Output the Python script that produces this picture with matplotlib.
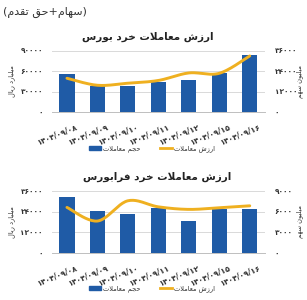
import numpy as np
import matplotlib
import matplotlib.pyplot as plt
from matplotlib.patches import Patch
from matplotlib.lines import Line2D
from matplotlib.transforms import ScaledTranslation

matplotlib.use("Agg")
plt.rcParams["font.family"] = ["DejaVu Sans"]

# ---- داده‌ها ----
dates = ["1404/09/08", "1404/09/09", "1404/09/10", "1404/09/11",
         "1404/09/12", "1404/09/15", "1404/09/16"]

bourse_volume = [56000, 38500, 38000, 44300, 46800, 57100, 84300]
bourse_value = [19900, 15800, 17000, 18600, 23000, 22800, 32950]

farabourse_volume = [32400, 24200, 22600, 26000, 18400, 25300, 25300]
farabourse_value = [6620, 4640, 7580, 6700, 6330, 6570, 6850]

bourse_left_ticks = [0, 30000, 60000, 90000]
bourse_right_ticks = [0, 12000, 24000, 36000]
fara_left_ticks = [0, 12000, 24000, 36000]
fara_right_ticks = [0, 3000, 6000, 9000]

subtitle = "(سهام+حق تقدم)"
title_bourse = "ارزش معاملات خرد بورس"
title_fara = "ارزش معاملات خرد فرابورس"
label_left = "میلیارد ریال"
label_right = "میلیون سهم"
legend_bar = "حجم معاملات"
legend_line = "ارزش معاملات"

BLUE = "#1f5ba6"
GOLD = "#efb020"
GRID = "#d9d9d9"
TXT = "#333333"

# ---- شکل‌دهی ساده حروف فارسی (matplotlib اتصال حروف را انجام نمی‌دهد) ----
FORMS = {
    "ا": ("\uFE8D", "\uFE8E", None, None),
    "ب": ("\uFE8F", "\uFE90", "\uFE91", "\uFE92"),
    "ت": ("\uFE95", "\uFE96", "\uFE97", "\uFE98"),
    "ج": ("\uFE9D", "\uFE9E", "\uFE9F", "\uFEA0"),
    "ح": ("\uFEA1", "\uFEA2", "\uFEA3", "\uFEA4"),
    "خ": ("\uFEA5", "\uFEA6", "\uFEA7", "\uFEA8"),
    "د": ("\uFEA9", "\uFEAA", None, None),
    "ر": ("\uFEAD", "\uFEAE", None, None),
    "ز": ("\uFEAF", "\uFEB0", None, None),
    "س": ("\uFEB1", "\uFEB2", "\uFEB3", "\uFEB4"),
    "ش": ("\uFEB5", "\uFEB6", "\uFEB7", "\uFEB8"),
    "ع": ("\uFEC9", "\uFECA", "\uFECB", "\uFECC"),
    "ف": ("\uFED1", "\uFED2", "\uFED3", "\uFED4"),
    "ق": ("\uFED5", "\uFED6", "\uFED7", "\uFED8"),
    "ل": ("\uFEDD", "\uFEDE", "\uFEDF", "\uFEE0"),
    "م": ("\uFEE1", "\uFEE2", "\uFEE3", "\uFEE4"),
    "ن": ("\uFEE5", "\uFEE6", "\uFEE7", "\uFEE8"),
    "ه": ("\uFEE9", "\uFEEA", "\uFEEB", "\uFEEC"),
    "و": ("\uFEED", "\uFEEE", None, None),
    "ی": ("\uFEEF", "\uFEF0", "\uFEF3", "\uFEF4"),
}
MIRROR = {"(": ")", ")": "("}
FA_DIGITS = str.maketrans("0123456789", "۰۱۲۳۴۵۶۷۸۹")


def fa(text):
    chars = list(text)
    out = []
    prev_joins = False
    i = 0
    while i < len(chars):
        c = chars[i]
        if c == "ل" and i + 1 < len(chars) and chars[i + 1] == "ا":
            out.append("\uFEFC" if prev_joins else "\uFEFB")
            prev_joins = False
            i += 2
            continue
        if c in FORMS:
            f = FORMS[c]
            nxt = chars[i + 1] if i + 1 < len(chars) else ""
            join_next = f[2] is not None and nxt in FORMS
            if prev_joins and join_next:
                g = f[3]
            elif prev_joins:
                g = f[1]
            elif join_next:
                g = f[2]
            else:
                g = f[0]
            out.append(g)
            prev_joins = join_next
        else:
            out.append(MIRROR.get(c, c))
            prev_joins = False
        i += 1
    return "".join(reversed(out))


def fa_num(v):
    return str(v).translate(FA_DIGITS)


def smooth(x, y, n=24):
    # منحنی هموار شبیه خط صاف‌شده اکسل (Catmull-Rom)
    p = np.column_stack([x, y]).astype(float)
    p = np.vstack([p[0], p, p[-1]])
    xs, ys = [], []
    t = np.linspace(0, 1, n)
    for i in range(1, len(p) - 2):
        p0, p1, p2, p3 = p[i - 1], p[i], p[i + 1], p[i + 2]
        c1 = p1 + (p2 - p0) / 6
        c2 = p2 - (p3 - p1) / 6
        b = ((1 - t) ** 3)[:, None] * p1 + (3 * (1 - t) ** 2 * t)[:, None] * c1 \
            + (3 * (1 - t) * t ** 2)[:, None] * c2 + (t ** 3)[:, None] * p2
        xs.extend(b[:, 0])
        ys.extend(b[:, 1])
    return xs, ys


fig = plt.figure(figsize=(3.07, 3.00), dpi=100)
W, H = 307, 300


def panel(bottom_px, top_px, bars, line, lticks, rticks):
    ax = fig.add_axes([51.7 / W, 1 - bottom_px / H, 213.3 / W, (bottom_px - top_px) / H])
    axr = ax.twinx()
    x = np.arange(len(dates))
    ax.bar(x, bars, width=0.5, color=BLUE, zorder=2)
    ax.set_xlim(-0.5, len(dates) - 0.5)
    ax.set_ylim(lticks[0], lticks[-1])
    axr.set_ylim(rticks[0], rticks[-1])
    ax.set_yticks(lticks)
    ax.set_yticklabels([fa_num(v) for v in lticks], fontweight="bold")
    axr.set_yticks(rticks)
    axr.set_yticklabels([fa_num(v) for v in rticks], fontweight="bold")
    ax.yaxis.grid(True, color=GRID, linewidth=0.7, zorder=0)
    ax.set_axisbelow(True)
    sx, sy = smooth(x, line)
    axr.plot(sx, sy, color=GOLD, linewidth=2.1, solid_capstyle="round", zorder=3)
    for a in (ax, axr):
        for s in a.spines.values():
            s.set_visible(False)
        a.tick_params(length=0, labelsize=5.3, colors=TXT)
    ax.spines["bottom"].set_visible(True)
    ax.spines["bottom"].set_color("#bfbfbf")
    ax.spines["bottom"].set_linewidth(0.7)
    ax.tick_params(axis="y", pad=6.3)
    axr.tick_params(axis="y", pad=7)
    ax.set_xticks(x)
    ax.set_xticklabels([fa_num(d) for d in dates], rotation=22, ha="right",
                       va="top", rotation_mode="anchor", fontsize=5.5,
                       fontweight="bold", color=TXT)
    off = ScaledTranslation(0.09, -0.05, fig.dpi_scale_trans)
    for lbl in ax.get_xticklabels():
        lbl.set_transform(lbl.get_transform() + off)
    mid = 1 - (bottom_px + top_px) / 2 / H
    fig.text(12 / W, mid, fa(label_left), rotation=90, ha="center", va="center",
             fontsize=4.8, color=TXT)
    fig.text(300 / W, mid, fa(label_right), rotation=90, ha="center", va="center",
             fontsize=4.8, color=TXT)
    return ax


panel(112.3, 50.7, bourse_volume, bourse_value, bourse_left_ticks, bourse_right_ticks)
panel(253.0, 191.0, farabourse_volume, farabourse_value, fara_left_ticks, fara_right_ticks)

fig.text(3 / W, 1 - 12.5 / H, fa(subtitle), ha="left", va="center", fontsize=8, color=TXT)
fig.text(148 / W, 1 - 36.5 / H, fa(title_bourse), ha="center", va="center",
         fontsize=7.5, fontweight="bold", color="#222222")
fig.text(157 / W, 1 - 177 / H, fa(title_fara), ha="center", va="center",
         fontsize=7.5, fontweight="bold", color="#222222")

handles = [Patch(color=BLUE), Line2D([], [], color=GOLD, linewidth=2.0)]
labels = [fa(legend_bar), fa(legend_line)]
for ly in (149, 289):
    fig.legend(handles, labels, loc="center", bbox_to_anchor=(152 / W, 1 - ly / H),
               ncol=2, frameon=False, fontsize=4.8, handlelength=1.7,
               handleheight=0.5, handletextpad=0.3, columnspacing=3.0,
               labelcolor=TXT)

fig.savefig("out.png", dpi=100)
